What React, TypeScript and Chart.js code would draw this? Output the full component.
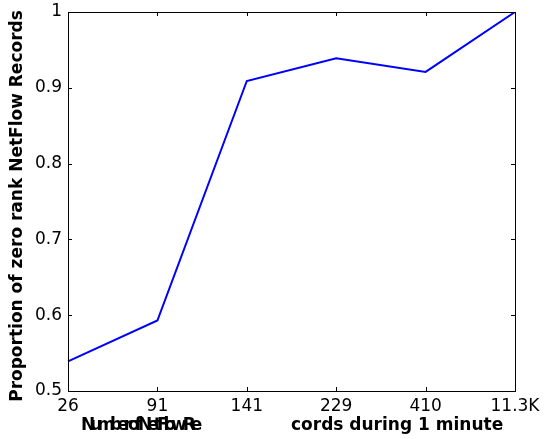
import React, { useEffect, useRef } from "react";
import { Chart, registerables } from "chart.js";

Chart.register(...registerables);

const categories = ["26", "91", "141", "229", "410", "11.3K"];
const proportion = [0.539, 0.593, 0.909, 0.939, 0.921, 1.0];
const yMin = 0.5;
const yMax = 1.0;
const yStep = 0.1;
const yTitle = "Proportion of zero rank NetFlow Records";
const xTitleLeft = "Number of NetFlow Re";
const xTitleRight = "cords during 1 minute";

const FONT = "'DejaVu Sans', sans-serif";

const framePlugin = {
  id: "mplFrame",
  afterDraw(chart: any) {
    const { ctx, chartArea } = chart;
    const { left, right, top, bottom } = chartArea;
    ctx.save();
    ctx.strokeStyle = "#000";
    ctx.lineWidth = 1;
    ctx.strokeRect(Math.round(left) + 0.5, Math.round(top) + 0.5, Math.round(right - left), Math.round(bottom - top));
    const tl = 4;
    const xs = chart.scales.x;
    xs.ticks.forEach((_: any, i: number) => {
      const px = Math.round(xs.getPixelForTick(i)) + 0.5;
      ctx.beginPath();
      ctx.moveTo(px, bottom);
      ctx.lineTo(px, bottom - tl);
      ctx.moveTo(px, top);
      ctx.lineTo(px, top + tl);
      ctx.stroke();
    });
    const ys = chart.scales.y;
    ys.ticks.forEach((_: any, i: number) => {
      const py = Math.round(ys.getPixelForTick(i)) + 0.5;
      ctx.beginPath();
      ctx.moveTo(left, py);
      ctx.lineTo(left + tl, py);
      ctx.moveTo(right, py);
      ctx.lineTo(right - tl, py);
      ctx.stroke();
    });
    // titles
    ctx.fillStyle = "#000";
    ctx.font = `bold 17px ${FONT}`;
    ctx.textBaseline = "middle";
    ctx.textAlign = "center";
    ctx.save();
    ctx.translate(18, 206);
    ctx.rotate(-Math.PI / 2);
    ctx.fillText(yTitle, 0, 0);
    ctx.restore();
    ctx.textAlign = "left";
    ctx.fillText(xTitleRight, 291, 426);
    ctx.save();
    try {
      (ctx as any).letterSpacing = "-5px";
    } catch (e) {}
    ctx.fillText(xTitleLeft, 81, 426);
    ctx.restore();
    ctx.restore();
  },
};

const zeroPad = (s: any) => {
  s.paddingTop = 0;
  s.paddingBottom = 0;
  s.paddingLeft = 0;
  s.paddingRight = 0;
};

export default function App() {
  const ref = useRef<HTMLCanvasElement | null>(null);
  useEffect(() => {
    document.body.style.margin = "0";
    const canvas = ref.current!;
    const chart = new Chart(canvas, {
      type: "line",
      data: {
        labels: categories,
        datasets: [
          {
            data: proportion,
            borderColor: "#0000ff",
            backgroundColor: "#0000ff",
            borderWidth: 2,
            pointRadius: 0,
            tension: 0,
            fill: false,
          },
        ],
      },
      options: {
        animation: false,
        responsive: false,
        devicePixelRatio: 1,
        layout: { padding: { top: 12, right: 37, left: 0, bottom: 0 } },
        plugins: { legend: { display: false }, tooltip: { enabled: false } },
        scales: {
          x: {
            type: "category",
            offset: false,
            grid: { display: false, drawTicks: false },
            border: { display: false },
            ticks: {
              color: "#000",
              font: { family: FONT, size: 17 },
              padding: 5,
              maxRotation: 0,
              autoSkip: false,
            },
            afterFit: (s: any) => {
              s.height = 48;
              zeroPad(s);
            },
          },
          y: {
            min: yMin,
            max: yMax,
            grid: { display: false, drawTicks: false },
            border: { display: false },
            ticks: {
              stepSize: yStep,
              color: "#000",
              font: { family: FONT, size: 17 },
              padding: 6,
              callback: (v: any) => String(Math.round(Number(v) * 10) / 10),
            },
            afterFit: (s: any) => {
              s.width = 68;
              zeroPad(s);
            },
          },
        },
      },
      plugins: [framePlugin],
    });
    return () => chart.destroy();
  }, []);
  return <canvas ref={ref} width={552} height={439} style={{ display: "block" }} />;
}
